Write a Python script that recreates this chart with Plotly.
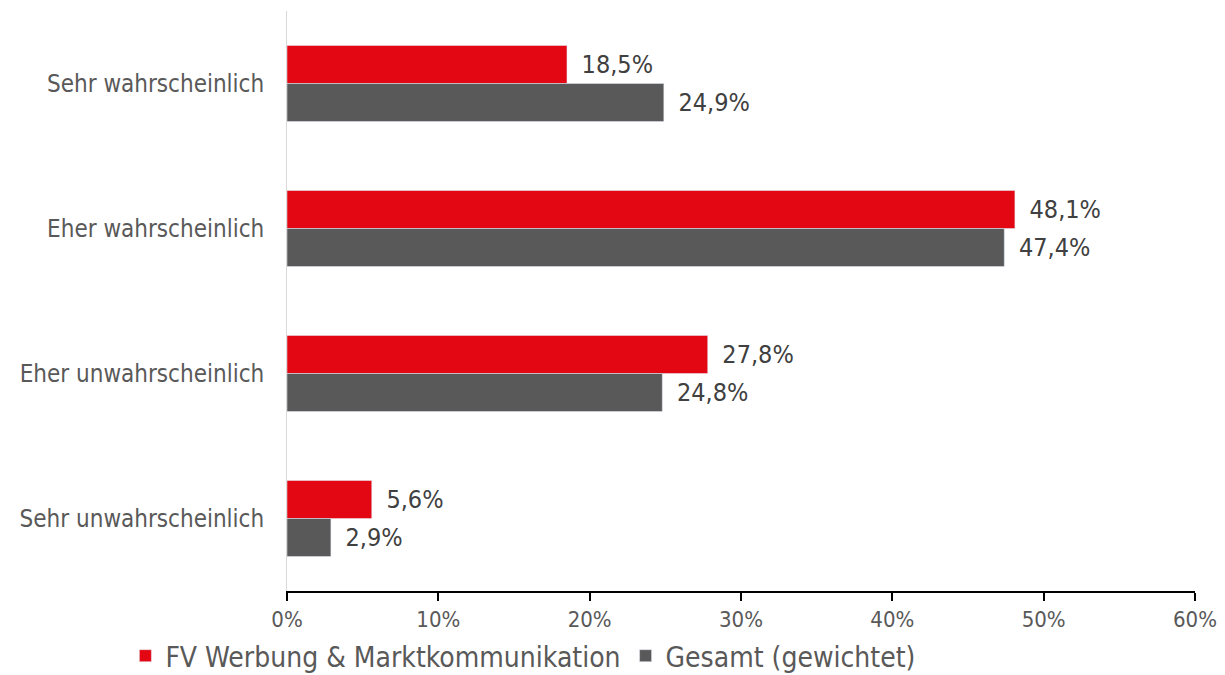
import plotly.graph_objects as go

categories = ["Sehr wahrscheinlich", "Eher wahrscheinlich", "Eher unwahrscheinlich", "Sehr unwahrscheinlich"]
fv_values = [18.5, 48.1, 27.8, 5.6]
gesamt_values = [24.9, 47.4, 24.8, 2.9]
series_names = ["FV Werbung & Marktkommunikation", "Gesamt (gewichtet)"]
tick_vals = [0, 10, 20, 30, 40, 50, 60]
tick_text = ["0%", "10%", "20%", "30%", "40%", "50%", "60%"]

def fmt(v):
    return " \u2009" + f"{v:.1f}".replace(".", ",") + "%"

font_family = "DejaVu Sans Condensed, DejaVu Sans, sans-serif"
text_color = "#595959"

fig = go.Figure()
fig.add_trace(go.Bar(
    y=categories, x=fv_values, orientation="h", name=series_names[0],
    marker=dict(color="#E30613"),
    text=[fmt(v) for v in fv_values], textposition="outside",
    textfont=dict(size=25, color="#404040", family=font_family),
    cliponaxis=False,
))
fig.add_trace(go.Bar(
    y=categories, x=gesamt_values, orientation="h", name=series_names[1],
    marker=dict(color="#595959"),
    text=[fmt(v) for v in gesamt_values], textposition="outside",
    textfont=dict(size=25, color="#404040", family=font_family),
    cliponaxis=False,
))

fig.update_layout(
    width=1217, height=667,
    margin=dict(l=279, r=30, t=3, b=84, autoexpand=False),
    barmode="group", bargap=0.476, bargroupgap=0,
    plot_bgcolor="white", paper_bgcolor="white",
    font=dict(family=font_family, color=text_color, size=22),
    xaxis=dict(
        range=[0, 60], tickvals=tick_vals, ticktext=tick_text,
        showgrid=False, zeroline=False,
        showline=True, linecolor="#000000", linewidth=1.5,
        ticks="outside", ticklen=8, tickcolor="#000000", tickwidth=1.5,
        tickfont=dict(size=22, color=text_color),
        automargin=False,
    ),
    yaxis=dict(
        autorange="reversed", showgrid=False, zeroline=False,
        showline=True, linecolor="#d9d9d9", linewidth=1,
        ticks="", ticklabelstandoff=17,
        tickfont=dict(size=24, color=text_color),
        automargin=False,
    ),
    showlegend=True,
    legend=dict(
        orientation="h", x=-0.178, xanchor="left", y=-0.112, yanchor="middle",
        font=dict(size=28, color=text_color),
        itemwidth=30, traceorder="normal",
    ),
)

fig.write_html("out.html")
